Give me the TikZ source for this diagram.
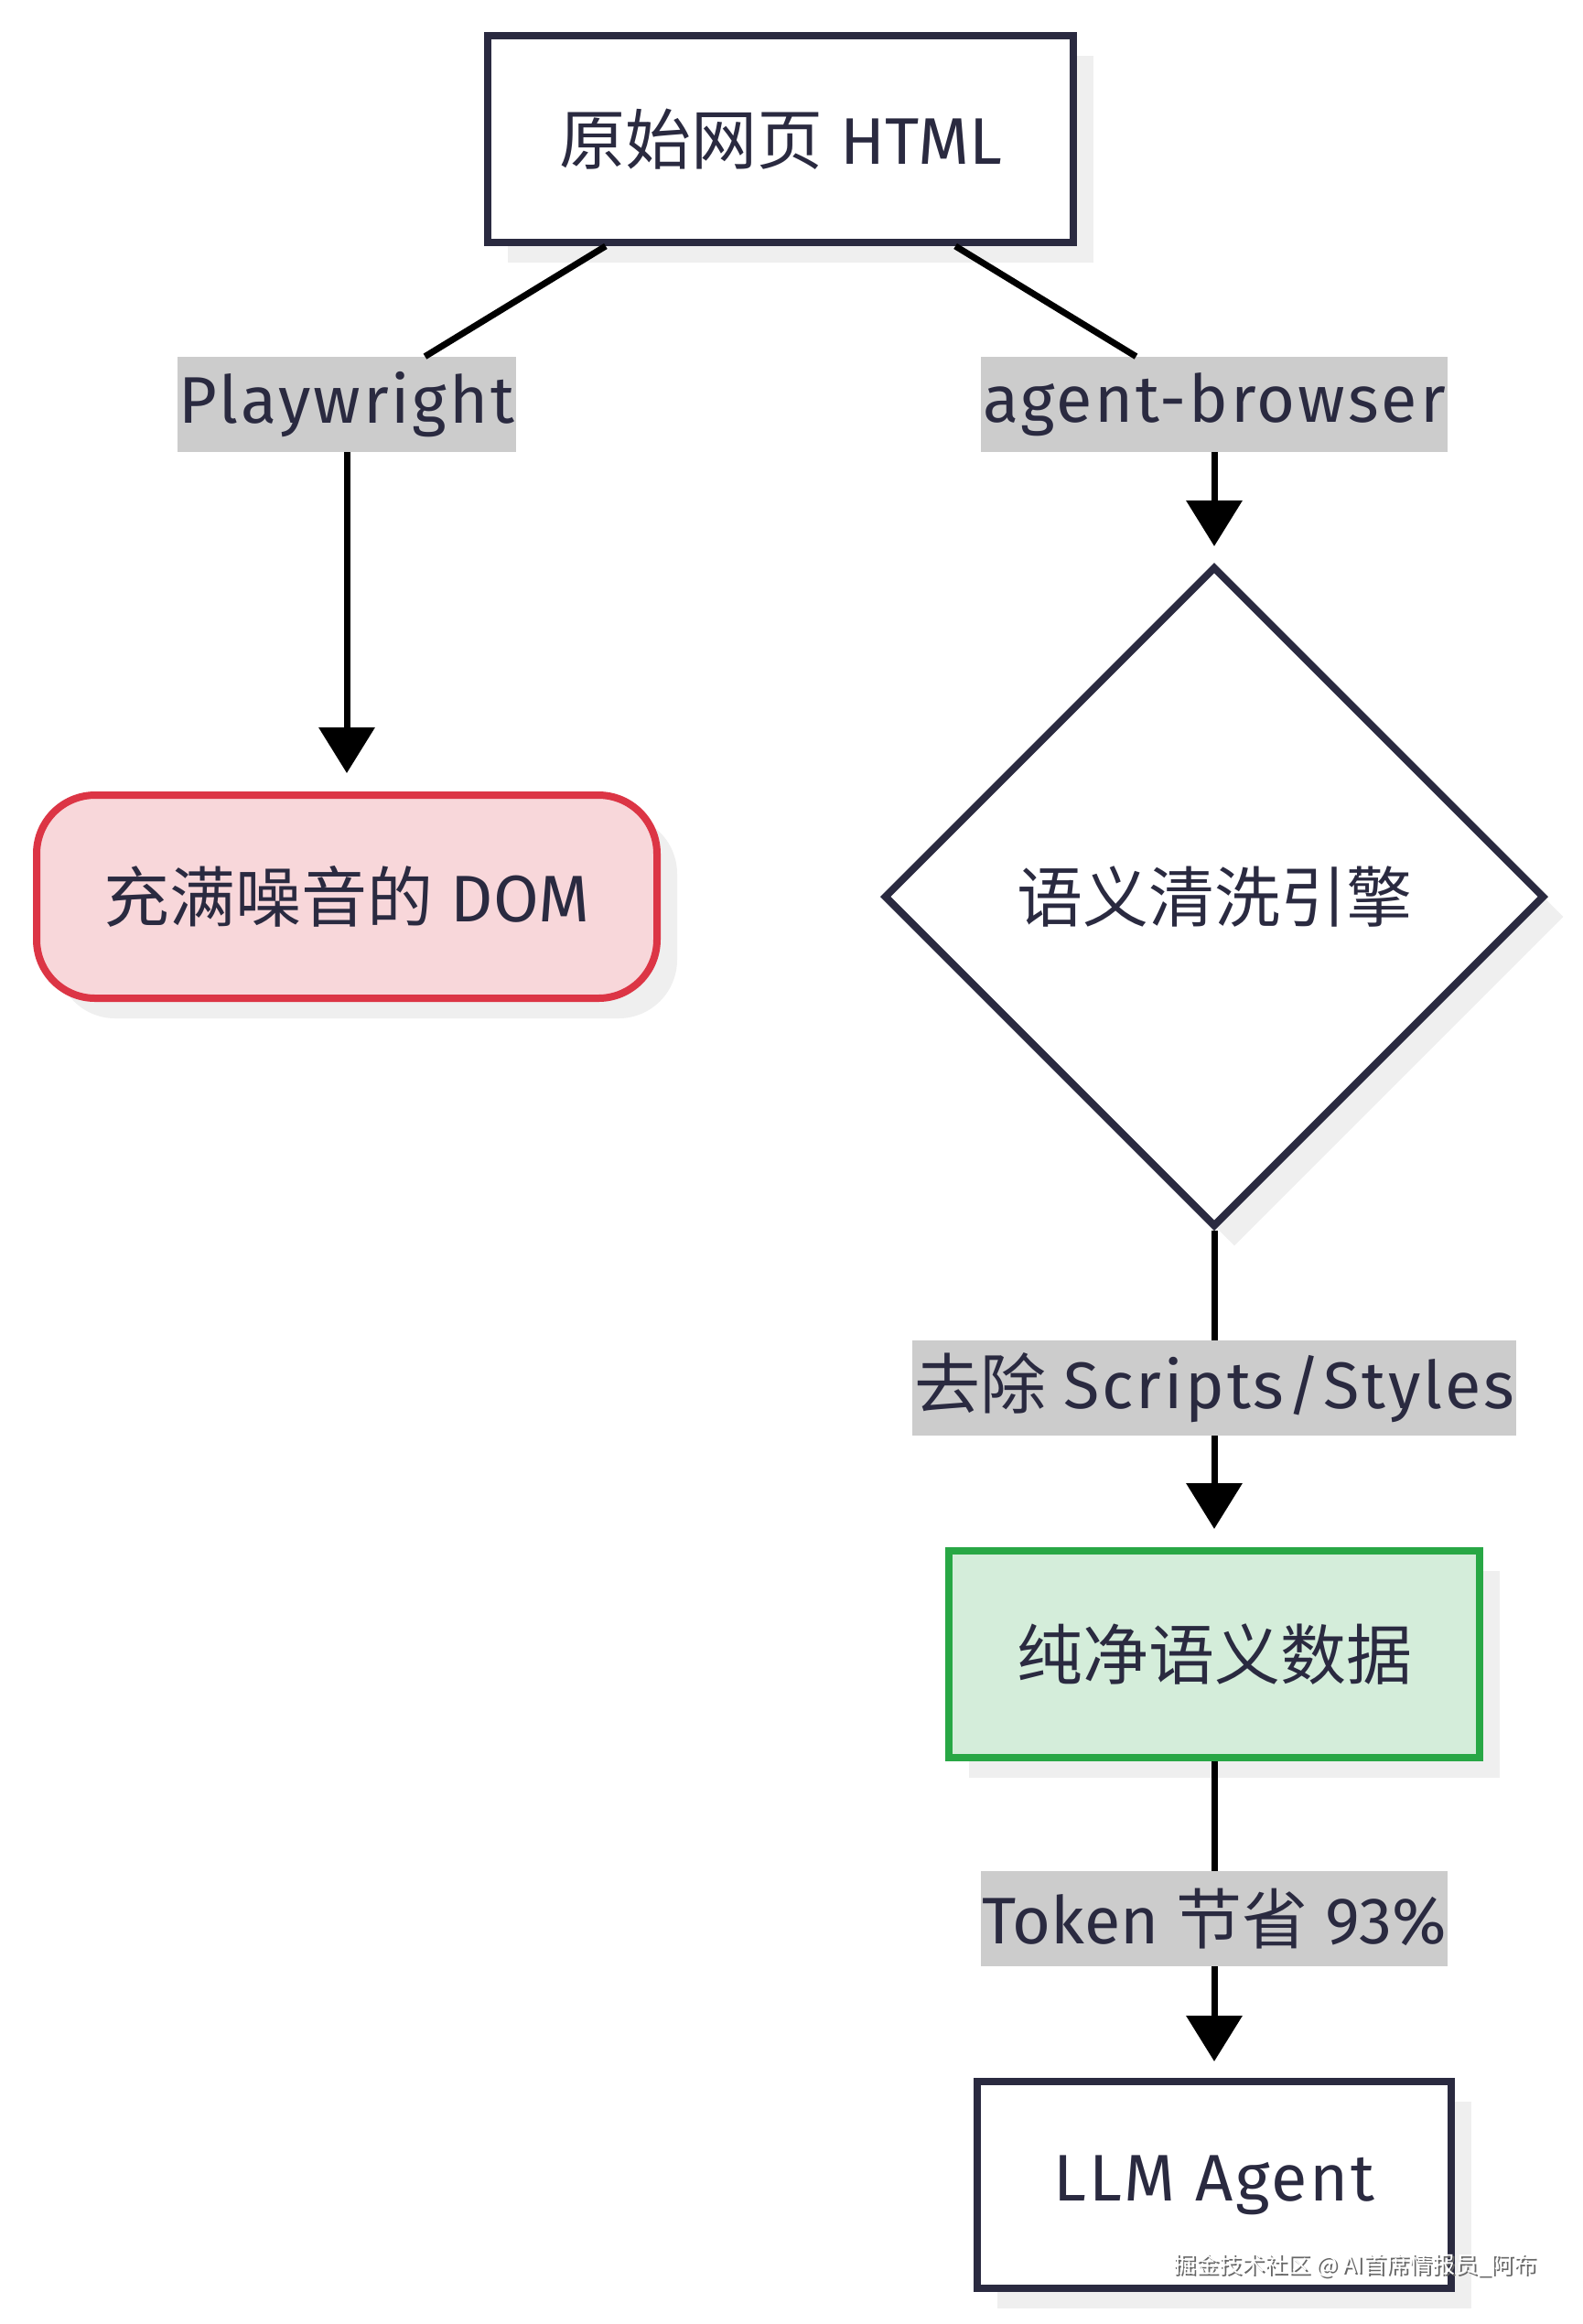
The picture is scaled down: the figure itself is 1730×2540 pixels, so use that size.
\documentclass[tikz,border=0pt]{standalone}
\usepackage{fontspec}
\setmainfont{Fira Sans}
\newfontfamily\wide[LetterSpace=4]{Fira Sans}
\newfontfamily\cjk{Noto Sans CJK SC}
\usetikzlibrary{shapes.geometric,arrows.meta}
\definecolor{ink}{HTML}{2A2A40}
\definecolor{labgray}{HTML}{CCCCCC}
\definecolor{shadowgray}{HTML}{EFEFEF}
\definecolor{pinkf}{HTML}{F8D7DA}
\definecolor{redb}{HTML}{DC3545}
\definecolor{greenf}{HTML}{D4EDDA}
\definecolor{greenb}{HTML}{28A745}
\begin{document}
\begin{tikzpicture}[x=0.5pt,y=-0.5pt,
  shadowed/.style={preaction={fill=shadowgray, transform canvas={shift={(11pt,-11pt)}}}},
  box/.style={draw=ink, line width=4pt, fill=white, minimum height=113pt, text=ink,
    font={\fontsize{36pt}{40pt}\selectfont}, shadowed},
  lab/.style={fill=labgray, text=ink, inner xsep=1pt, inner ysep=0pt, minimum height=52pt,
    font={\fontsize{36pt}{40pt}\selectfont}},
  edge/.style={line width=3.5pt, black},
  arr/.style={edge, -{Triangle[length=25pt,width=30pt]}}
]
\useasboundingbox (0,0) rectangle (1730,2540);
\fill[white] (0,0) rectangle (1730,2540);

\node[box, minimum width=320pt] (html) at (853,152) {{\cjk 原始网页} HTML};
\node[box, rounded corners=32pt, draw=redb, fill=pinkf, minimum width=339pt, minimum height=111pt] (dom) at (379,980) {{\cjk 充满噪音的} DOM};
\node[box, shape=diamond, aspect=1, inner sep=0pt, minimum width=361pt, minimum height=361pt] (eng) at (1327,980) {\cjk 语义清洗引擎};
\node[box, draw=greenb, fill=greenf, minimum width=290pt] (pure) at (1327,1808) {\cjk 纯净语义数据};
\node[box, minimum width=259pt] (llm) at (1327,2388) {\wide LLM Agent};

\node[lab] (pw) at (379,442) {\wide Playwright};
\node[lab] (ab) at (1327,442) {\wide agent-browser};
\node[lab] (rm) at (1327,1517) {{\cjk 去除} {\wide Scripts/Styles}};
\node[lab] (tk) at (1327,2097) {Token {\cjk 节省} 93\%};

\draw[edge] (html) -- (pw);
\draw[arr, shorten >=10pt] (pw) -- (dom);
\draw[edge] (html) -- (ab);
\draw[arr, shorten >=9pt] (ab) -- (eng);
\draw[edge] (eng) -- (rm);
\draw[arr, shorten >=10pt] (rm) -- (pure);
\draw[edge] (pure) -- (tk);
\draw[arr, shorten >=9pt] (tk) -- (llm);

\node[text=black!60, font={\cjk\fontsize{12.5pt}{15pt}\selectfont}] (wmshadow) at (1483,2478) {掘金技术社区 @ AI首席情报员\_阿布};
\node[text=white, font={\cjk\fontsize{12.5pt}{15pt}\selectfont}] (wm) at (1481,2476) {掘金技术社区 @ AI首席情报员\_阿布};
\end{tikzpicture}
\end{document}
